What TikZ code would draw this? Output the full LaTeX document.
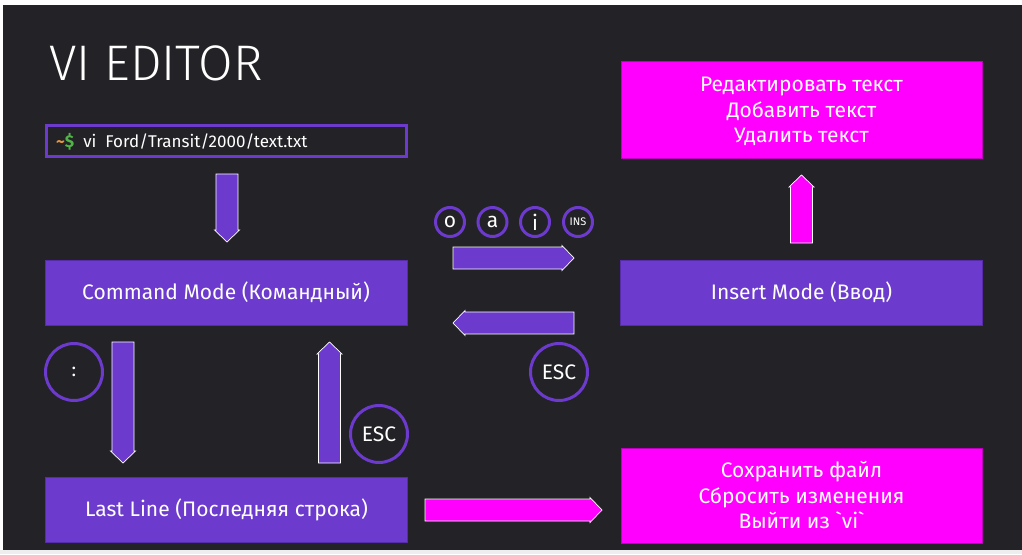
\documentclass[tikz,border=0pt]{standalone}
\usepackage{fontspec}
\setmainfont{Fira Sans}
\newfontfamily\lightfont{Fira Sans Light}
\newfontfamily\rawfont{Fira Sans}[Mapping=]
\usetikzlibrary{calc}
\definecolor{bgdark}{RGB}{35,34,39}
\definecolor{stripgrey}{RGB}{238,238,238}
\definecolor{vpurple}{RGB}{108,58,204}
\definecolor{vpurpleedge}{RGB}{86,44,170}
\definecolor{vmagenta}{RGB}{255,0,255}
\definecolor{vmagentaedge}{RGB}{190,0,190}
\definecolor{promptorange}{RGB}{232,150,60}
\definecolor{promptgreen}{RGB}{80,180,70}

% a literal backtick, kept out of the TeX quote mapping
\newcommand\backtick{{\rawfont\char"60}}

% horizontal block arrow: style, tail x, tip x, centre y
\newcommand\harrowblock[4]{%
  \pgfmathsetmacro\hb{#3-12*sign(#3-#2)}%
  \draw[#1] ({#2},{#4-11}) -- (\hb,{#4-11}) -- (\hb,{#4-12.5}) -- ({#3},{#4})
    -- (\hb,{#4+12.5}) -- (\hb,{#4+11}) -- ({#2},{#4+11}) -- cycle;}
% vertical block arrow: style, centre x, tail y, tip y
\newcommand\varrowblock[4]{%
  \pgfmathsetmacro\hb{#4-12*sign(#4-#3)}%
  \draw[#1] ({#2-11},{#3}) -- ({#2-11},\hb) -- ({#2-12.5},\hb) -- ({#2},{#4})
    -- ({#2+12.5},\hb) -- ({#2+11},\hb) -- ({#2+11},{#3}) -- cycle;}

\begin{document}
\begin{tikzpicture}[x=1pt,y=-1pt,
  every node/.style={text=white},
  modebox/.style={draw=vpurpleedge, line width=0.8pt, fill=vpurple,
    minimum width=362pt, minimum height=65pt, inner sep=0pt,
    font=\fontsize{21}{25}\selectfont},
  actionbox/.style={draw=vmagentaedge, line width=0.8pt, fill=vmagenta,
    minimum width=361pt, inner sep=0pt, align=center,
    font=\fontsize{21}{25.5}\selectfont},
  keycircle/.style={circle, draw=vpurple, line width=3pt, inner sep=0pt,
    minimum size=29pt, font=\fontsize{21}{21}\selectfont},
  bigkey/.style={keycircle, minimum size=57pt},
  purplearrow/.style={fill=vpurple, draw=white, line width=0.7pt},
  magentaarrow/.style={fill=vmagenta, draw=white, line width=0.7pt}]

% canvas
\useasboundingbox (0,0) rectangle (1022,554);
\fill[white] (0,0) rectangle (1022,554);
\fill[bgdark] (3,5) rectangle (1022,550);
\fill[stripgrey] (0,550) rectangle (1022,554);

% title
\node[anchor=base west, inner sep=0pt, font=\lightfont\fontsize{50}{50}\selectfont]
  (title) at (49,80) {VI EDITOR};

% shell command
\node[draw=vpurple, line width=3pt, minimum width=360pt, minimum height=31pt,
  inner sep=0pt] (term) at (226.5,141) {};
\node[anchor=base west, inner sep=0pt, font=\fontsize{17}{20}\selectfont]
  (cmdline) at (56,147.5)
  {{\bfseries\textcolor{promptorange}{\char"7E}\textcolor{promptgreen}{\$}}\ \ vi\ \ Ford/Transit/2000/text.txt};

% modes
\node[modebox] (cmd) at (226,292.5) {Command Mode (Командный)};
\node[modebox] (ins) at (801.5,292.5) {Insert Mode (Ввод)};
\node[modebox] (last) at (226.5,510) {Last Line (Последняя строка)};

% what each mode is for
\node[actionbox, minimum height=97pt] (edit) at (801.5,109.5) {};
\node[align=center, font=\fontsize{21}{25.5}\selectfont] (edittext) at (801.5,111.5)
  {Редактировать текст\\Добавить текст\\Удалить текст};
\node[actionbox, minimum height=95pt] (save) at (801.5,495.5)
  {Сохранить файл\\Сбросить изменения\\Выйти из \backtick vi\backtick};

% keys
\node[keycircle] (ko) at (450,222) {o};
\node[keycircle] (ka) at (492.5,222) {a};
\node[keycircle] (ki) at (535,222) {i};
\node[keycircle, font=\fontsize{11}{11}\selectfont] (kins) at (578,222) {INS};
\node[bigkey] (kesc) at (559,372) {ESC};
\node[bigkey, font=\fontsize{19}{19}\selectfont] (kcolon) at (74,372) {:};
\node[bigkey] (kesclast) at (379,434) {ESC};

% transitions
\varrowblock{purplearrow}{227}{174}{242}
\harrowblock{purplearrow}{453}{574}{258}
\harrowblock{purplearrow}{574}{453}{323}
\varrowblock{purplearrow}{123}{342}{463}
\varrowblock{purplearrow}{329.5}{463}{342}
\varrowblock{magentaarrow}{801.5}{243}{175}
\harrowblock{magentaarrow}{425}{602}{510}
\end{tikzpicture}
\end{document}
